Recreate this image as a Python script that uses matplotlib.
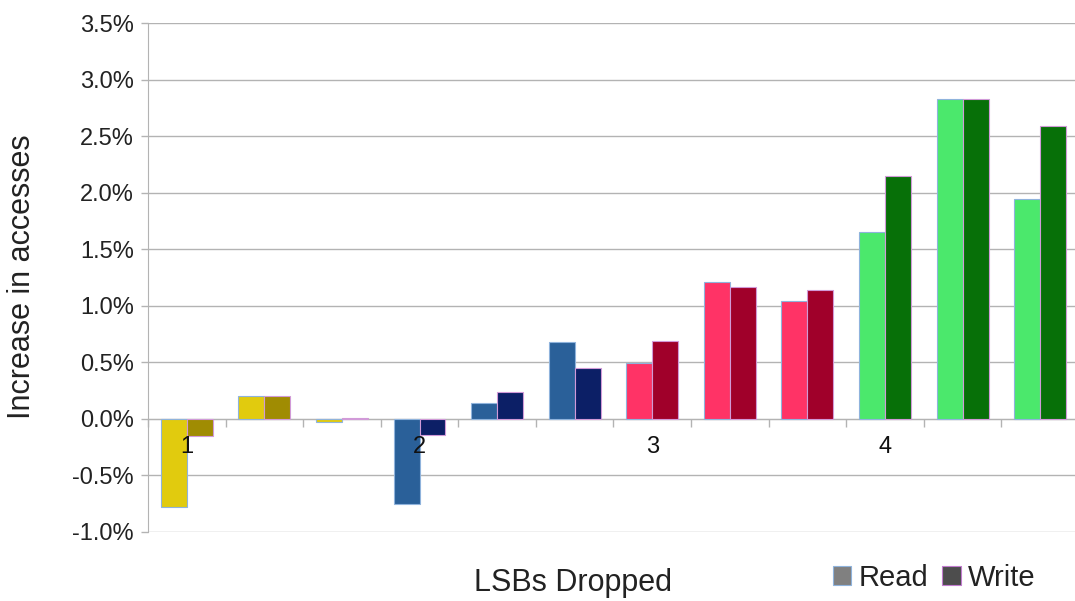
import matplotlib
matplotlib.use("Agg")
import matplotlib.pyplot as plt
from matplotlib.patches import Patch
from matplotlib.ticker import FuncFormatter, FixedLocator
import numpy as np

plt.rcParams['font.family'] = ['Liberation Sans', 'DejaVu Sans']

# Data (percent increase in accesses)
read_vals = [-0.78, 0.20, -0.03, -0.75, 0.14, 0.68, 0.49, 1.21, 1.04, 1.65, 2.83, 1.94]
write_vals = [-0.155, 0.20, 0.01, -0.14, 0.24, 0.45, 0.69, 1.17, 1.14, 2.15, 2.83, 2.59]
read_colors = ['#e1cb0e'] * 3 + ['#2a6099'] * 3 + ['#ff3366'] * 3 + ['#4be86c'] * 3
write_colors = ['#a08c02'] * 3 + ['#0c1f66'] * 3 + ['#a0002a'] * 3 + ['#077008'] * 3
group_labels = ['1', '2', '3', '4']
label_positions = [0, 3, 6, 9]
series_names = ['Read', 'Write']
y_ticks = [-1.0, -0.5, 0.0, 0.5, 1.0, 1.5, 2.0, 2.5, 3.0, 3.5]

fig = plt.figure(figsize=(10.75, 6.01), dpi=100)
ax = fig.add_axes([148 / 1075, 1 - 532 / 601, 1 - 148 / 1075, (532 - 23) / 601])

x = np.arange(len(read_vals))
w = 0.335
ax.bar(x - w / 2, read_vals, width=w, color=read_colors, edgecolor='#8fb3dc', linewidth=0.8, zorder=3)
ax.bar(x + w / 2, write_vals, width=w, color=write_colors, edgecolor='#d19ad8', linewidth=0.8, zorder=3)

ax.set_ylim(-1.0, 3.5)
ax.set_xlim(-0.5, 11.45)
ax.set_yticks(y_ticks)
ax.yaxis.set_major_formatter(FuncFormatter(lambda v, p: f'{v:.1f}%'))
ax.grid(axis='y', color='#b3b3b3', linewidth=1.0, zorder=0)
ax.set_axisbelow(True)

for s in ['top', 'right']:
    ax.spines[s].set_visible(False)
ax.spines['left'].set_color('#b3b3b3')
ax.spines['bottom'].set_position(('data', 0))
ax.spines['bottom'].set_color('#b3b3b3')
ax.spines['bottom'].set_zorder(2)

ax.xaxis.set_major_locator(FixedLocator(np.arange(-0.5, 11.6, 1.0)))
ax.set_xticklabels([])
ax.tick_params(axis='x', direction='out', length=6, color='#b3b3b3', width=1)
ax.tick_params(axis='y', direction='out', length=5, color='#b3b3b3', width=1,
               labelsize=17, labelcolor='#222222', pad=5)

for pos, lab in zip(label_positions, group_labels):
    ax.text(pos, -0.25, lab, ha='center', va='center', fontsize=17, color='#111111', zorder=4)

fig.text(22 / 1075, 1 - 277 / 601, 'Increase in accesses', rotation=90, ha='center', va='center',
         fontsize=22, color='#222222')
fig.text(573 / 1075, 1 - 583 / 601, 'LSBs Dropped', ha='center', va='center', fontsize=22, color='#222222')

handles = [Patch(facecolor='#808080', edgecolor='#8fb3dc', linewidth=0.8),
           Patch(facecolor='#4d4d4d', edgecolor='#c27ccf', linewidth=0.8)]
fig.legend(handles, series_names, loc='center', bbox_to_anchor=(934 / 1075, 1 - 578 / 601), ncol=2,
           frameon=False, fontsize=21, handlelength=0.65, handleheight=0.65, handletextpad=0.25,
           columnspacing=0.45, borderpad=0, labelcolor='#222222')

fig.savefig('out.png', dpi=100)
